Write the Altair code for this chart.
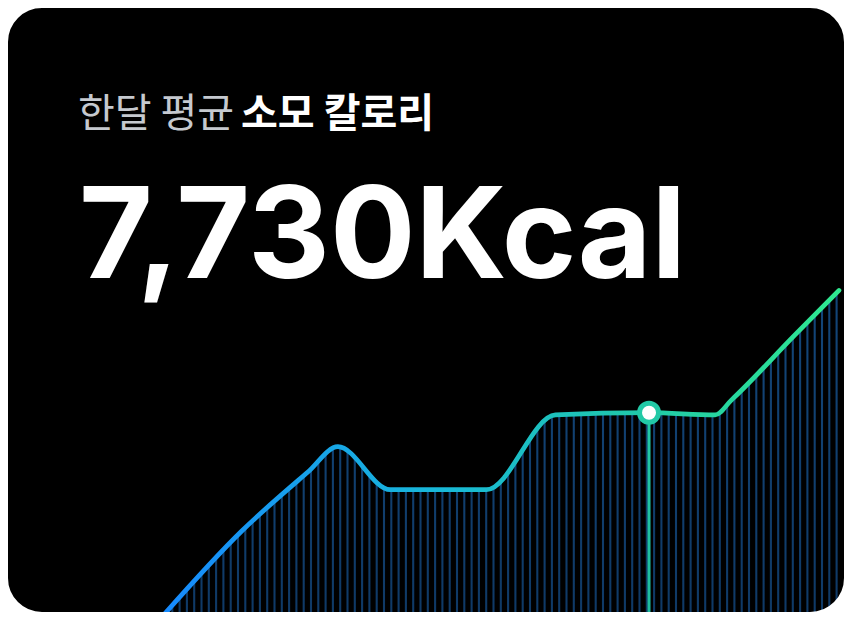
import altair as alt
import pandas as pd

# 텍스트
label_muted = "한달 평균"
label_bold = "소모 칼로리"
headline = "7,730Kcal"

# 일별 소모 칼로리 곡선
days = [5.3, 8.3, 10.7, 11.8, 13.7, 17.2, 19.7, 23.1, 25.5, 26.1, 28.4, 30.0]
kcal = [4890, 6070, 6850, 7190, 6620, 6620, 7610, 7640, 7610, 7810, 8670, 9260]
highlight_index = 7

line_df = pd.DataFrame({'day': days, 'kcal': kcal})
hl_df = line_df.iloc[[highlight_index]]

x_scale = alt.Scale(domain=[0, 30], nice=False, zero=False)
y_scale = alt.Scale(domain=[5000, 13000], nice=False, zero=False)
x_enc = alt.X('day:Q', scale=x_scale, axis=None)
y_enc = alt.Y('kcal:Q', scale=y_scale, axis=None)

W, H = 836, 604


def grad(stops, vertical=False):
    return alt.LinearGradient(
        gradient='linear',
        stops=[alt.GradientStop(color=c, offset=o) for o, c in stops],
        x1=0, x2=0 if vertical else 1, y1=0, y2=1 if vertical else 0
    )


# 곡선 아래 영역 (남색)
area = alt.Chart(line_df).mark_area(
    interpolate='monotone', clip=True,
    fill=grad([(0, '#134679'), (1, '#0b2b50')], vertical=True)
).encode(x=x_enc, y=y_enc)

# 세로 줄무늬: 검은 선을 덮어서 남색 줄만 남김
stripes = alt.Chart(alt.sequence(0.05, 850, 7.3, as_='sx')).mark_rule(
    color='black', strokeWidth=5.2
).encode(
    x=alt.X('sx:Q', scale=None, axis=None),
    y=alt.value(250),
    y2=alt.value(H)
)

# 강조 지점 아래로 내려가는 선
drop = alt.Chart(hl_df).mark_bar(
    size=3, clip=True,
    fill=grad([(0, '#22c9a6'), (0.45, '#1cb89b'), (0.78, '#0f6b5b'), (1, '#000000')], vertical=True)
).encode(x=x_enc, y=y_enc, y2=alt.value(H))

# 그라데이션 라인
line = alt.Chart(line_df).mark_line(
    interpolate='monotone', strokeWidth=4.7, clip=True, strokeCap='round',
    stroke=grad([(0, '#1689ff'), (0.41, '#18b8d8'), (0.7, '#20c8aa'), (1, '#2fe890')])
).encode(x=x_enc, y=y_enc)

point = alt.Chart(hl_df).mark_point(
    shape='circle', filled=True, fill='white', stroke='#22c9a6',
    strokeWidth=5, size=361, opacity=1
).encode(x=x_enc, y=y_enc)

# 제목 텍스트
t1 = alt.Chart(pd.DataFrame({'t': [label_muted]})).mark_text(
    font='Noto Sans CJK KR', fontSize=40, fontWeight=400, color='#c5c9cf',
    align='left', baseline='alphabetic'
).encode(text='t:N', x=alt.value(70), y=alt.value(119))

t2 = alt.Chart(pd.DataFrame({'t': [label_bold]})).mark_text(
    font='Noto Sans CJK KR', fontSize=40, fontWeight=700, color='#ffffff',
    align='left', baseline='alphabetic'
).encode(text='t:N', x=alt.value(233), y=alt.value(119))

big = alt.Chart(pd.DataFrame({'t': [headline]})).mark_text(
    font='Inter', fontSize=127, fontWeight=700, color='#ffffff',
    align='left', baseline='alphabetic'
).encode(text='t:N', x=alt.value(71), y=alt.value(270))

# 둥근 모서리 바깥을 흰색으로 가림
mask = alt.Chart(alt.Data(values=[{}])).mark_rect(
    fillOpacity=0, stroke='white', strokeWidth=40, cornerRadius=54
).encode(x=alt.value(-20), x2=alt.value(W + 20), y=alt.value(-20), y2=alt.value(H + 20))

chart = alt.layer(area, stripes, drop, line, point, t1, t2, big, mask).properties(
    width=W, height=H,
    autosize=alt.AutoSizeParams(type='none'),
    padding=0,
    background='black'
).configure_view(strokeWidth=0)

chart.save("out.html", embed_options={"renderer": "svg", "actions": False})
